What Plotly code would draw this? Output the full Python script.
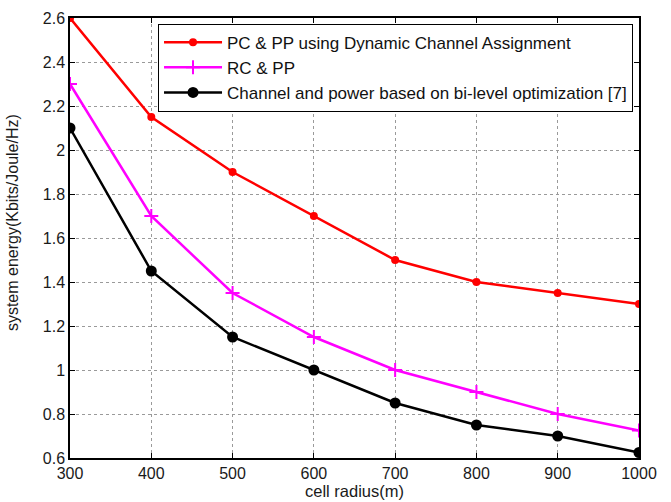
import plotly.graph_objects as go

radius = [300, 400, 500, 600, 700, 800, 900, 1000]
pc_pp_dca = [2.6, 2.15, 1.9, 1.7, 1.5, 1.4, 1.35, 1.3]
rc_pp = [2.3, 1.7, 1.35, 1.15, 1.0, 0.9, 0.8, 0.725]
bilevel = [2.1, 1.45, 1.15, 1.0, 0.85, 0.75, 0.7, 0.625]
names = ["PC & PP using Dynamic Channel Assignment", "RC & PP",
         "Channel and power based on bi-level optimization [7]"]
yticks = [0.6, 0.8, 1.0, 1.2, 1.4, 1.6, 1.8, 2.0, 2.2, 2.4, 2.6]
yticklabels = ["0.6", "0.8", "1", "1.2", "1.4", "1.6", "1.8", "2", "2.2", "2.4", "2.6"]

FONT = "Arial, Liberation Sans, sans-serif"

fig = go.Figure()
fig.add_trace(go.Scatter(x=radius, y=pc_pp_dca, name=names[0], mode="lines+markers",
                         line=dict(color="#ff0000", width=2.5),
                         marker=dict(symbol="circle", size=8, color="#ff0000")))
fig.add_trace(go.Scatter(x=radius, y=rc_pp, name=names[1], mode="lines+markers",
                         line=dict(color="#ff00ff", width=2.5),
                         marker=dict(symbol="cross-thin", size=10, color="#ff00ff",
                                     line=dict(color="#ff00ff", width=2))))
fig.add_trace(go.Scatter(x=radius, y=bilevel, name=names[2], mode="lines+markers",
                         line=dict(color="#000000", width=2.5),
                         marker=dict(symbol="circle", size=11, color="#000000")))

axis_common = dict(showline=True, linecolor="black", linewidth=1.5, mirror="ticks",
                   ticks="inside", ticklen=5, tickcolor="black",
                   showgrid=True, gridcolor="#9a9a9a", griddash="dot", gridwidth=1,
                   zeroline=False, automargin=False,
                   tickfont=dict(family=FONT, size=16, color="#1a1a1a"))

fig.update_layout(
    width=671, height=502,
    margin=dict(l=70, r=32, t=18, b=44),
    paper_bgcolor="white", plot_bgcolor="white",
    font=dict(family=FONT, size=16, color="#1a1a1a"),
    xaxis=dict(range=[300, 1000], tickvals=radius, ticktext=[str(v) for v in radius],
               **axis_common),
    yaxis=dict(range=[0.6, 2.6], tickvals=yticks, ticktext=yticklabels,
               **axis_common),
    legend=dict(x=0.1547, y=0.987, xanchor="left", yanchor="top",
                bordercolor="black", borderwidth=1, bgcolor="white",
                font=dict(family=FONT, size=17, color="#111"), itemwidth=58, tracegroupgap=0),
    showlegend=True,
    annotations=[
        dict(text="cell radius(m)", xref="paper", yref="paper", x=0.5, y=-0.075,
             xanchor="center", yanchor="middle", showarrow=False,
             font=dict(family=FONT, size=16.5, color="#1a1a1a")),
        dict(text="system energy(Kbits/Joule/Hz)", xref="paper", yref="paper",
             x=-0.102, y=0.536, xanchor="center", yanchor="middle", showarrow=False,
             textangle=-90, font=dict(family=FONT, size=16, color="#1a1a1a")),
    ],
)
fig.write_html("out.html", config={"displayModeBar": False},
               post_script="document.body.style.margin='0';document.body.style.padding='0';")
